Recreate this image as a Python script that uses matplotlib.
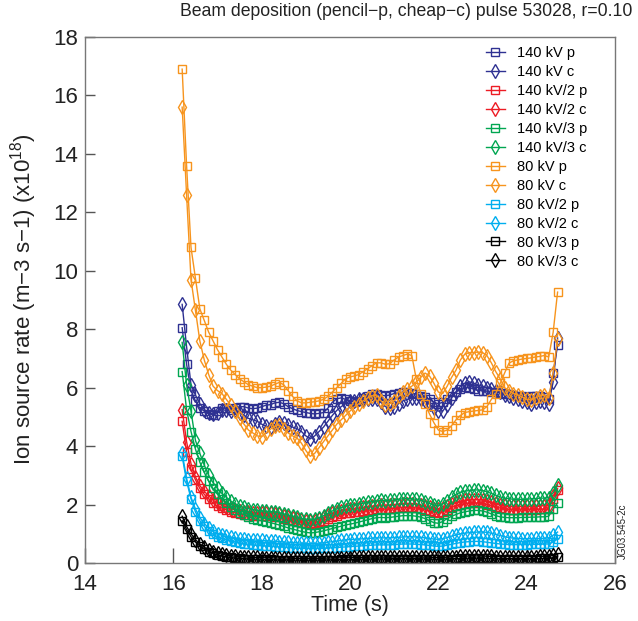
import numpy as np
import matplotlib
matplotlib.use("Agg")
import matplotlib.pyplot as plt

plt.rcParams['font.family'] = ['Liberation Sans', 'DejaVu Sans']
plt.rcParams['mathtext.default'] = 'regular'

# =========================
# Data (x10^18 m-3 s-1), sampled every 0.1 s from 16.2 to 24.7 s
# =========================
time = np.round(np.linspace(16.2, 24.7, 86), 1)

kv140_p = [8.05, 6.8, 5.9, 5.55, 5.3, 5.2, 5.1, 5.08,
           5.2, 5.3, 5.3, 5.25, 5.3, 5.35, 5.35, 5.3, 5.28, 5.3,
           5.35, 5.4, 5.42, 5.48, 5.5, 5.45, 5.35, 5.28, 5.22, 5.18,
           5.15, 5.12, 5.1, 5.12, 5.15, 5.3, 5.5, 5.62, 5.65, 5.6,
           5.55, 5.5, 5.55, 5.65, 5.72, 5.78, 5.8, 5.75, 5.72, 5.75,
           5.8, 5.82, 5.85, 5.85, 5.82, 5.78, 5.72, 5.68, 5.6, 5.5,
           5.45, 5.5, 5.6, 5.72, 5.85, 5.95, 6.02, 6.0, 5.95, 5.9,
           5.9, 5.88, 5.85, 5.85, 5.82, 5.8, 5.78, 5.75, 5.72, 5.7,
           5.68, 5.7, 5.72, 5.7, 5.68, 5.6, 6.5, 7.45]
kv140_c = [8.85, 7.4, 6.1, 5.75, 5.45, 5.25, 5.15, 5.1,
           5.15, 5.25, 5.22, 5.2, 5.22, 5.15, 5.05, 4.95, 4.9, 4.85,
           4.75, 4.68, 4.65, 4.75, 4.82, 4.8, 4.72, 4.65, 4.6, 4.5,
           4.35, 4.25, 4.35, 4.5, 4.65, 4.85, 5.05, 5.22, 5.35, 5.45,
           5.55, 5.55, 5.6, 5.6, 5.6, 5.62, 5.6, 5.5, 5.35, 5.3,
           5.35, 5.45, 5.55, 5.6, 5.65, 5.65, 5.62, 5.55, 5.45, 5.3,
           5.2, 5.2, 5.4, 5.65, 5.85, 6.05, 6.15, 6.2, 6.15, 6.1,
           6.05, 6.0, 5.95, 5.9, 5.85, 5.75, 5.7, 5.65, 5.6, 5.55,
           5.5, 5.45, 5.5, 5.55, 5.5, 5.45, 6.2, 7.7]
kv140h_p = [4.85, 3.8, 3.2, 2.85, 2.55, 2.35, 2.2, 2.05,
            1.95, 1.88, 1.82, 1.76, 1.72, 1.68, 1.65, 1.63, 1.62, 1.6,
            1.6, 1.6, 1.6, 1.58, 1.56, 1.52, 1.48, 1.44, 1.4, 1.38,
            1.36, 1.35, 1.36, 1.4, 1.45, 1.52, 1.58, 1.62, 1.66, 1.7,
            1.72, 1.74, 1.76, 1.78, 1.8, 1.82, 1.84, 1.85, 1.84, 1.85,
            1.87, 1.88, 1.9, 1.9, 1.9, 1.88, 1.86, 1.82, 1.78, 1.74,
            1.72, 1.75, 1.82, 1.9, 1.96, 2.0, 2.02, 2.04, 2.05, 2.05,
            2.04, 2.0, 1.96, 1.92, 1.88, 1.85, 1.83, 1.82, 1.82, 1.82,
            1.82, 1.83, 1.83, 1.84, 1.84, 1.85, 2.2, 2.5]
kv140h_c = [5.25, 4.15, 3.4, 2.95, 2.65, 2.45, 2.3, 2.15,
            2.05, 1.98, 1.92, 1.86, 1.82, 1.78, 1.75, 1.73, 1.72, 1.7,
            1.7, 1.7, 1.7, 1.68, 1.66, 1.62, 1.58, 1.54, 1.5, 1.47,
            1.45, 1.44, 1.45, 1.5, 1.56, 1.63, 1.7, 1.74, 1.78, 1.82,
            1.84, 1.86, 1.88, 1.9, 1.92, 1.94, 1.96, 1.97, 1.96, 1.97,
            1.99, 2.0, 2.02, 2.02, 2.02, 2.0, 1.98, 1.94, 1.9, 1.86,
            1.84, 1.87, 1.94, 2.02, 2.08, 2.12, 2.14, 2.16, 2.17, 2.17,
            2.16, 2.12, 2.08, 2.04, 2.0, 1.97, 1.95, 1.94, 1.94, 1.94,
            1.94, 1.95, 1.95, 1.96, 1.96, 1.97, 2.3, 2.55]
kv140t_p = [6.55, 5.25, 4.5, 3.9, 3.45, 3.1, 2.8, 2.55,
            2.35, 2.2, 2.05, 1.92, 1.82, 1.72, 1.65, 1.58, 1.52, 1.48,
            1.45, 1.42, 1.38, 1.34, 1.3, 1.25, 1.2, 1.16, 1.12, 1.08,
            1.05, 1.03, 1.04, 1.07, 1.1, 1.14, 1.18, 1.22, 1.26, 1.3,
            1.33, 1.36, 1.4, 1.44, 1.48, 1.52, 1.55, 1.56, 1.55, 1.56,
            1.58, 1.6, 1.62, 1.62, 1.62, 1.6, 1.57, 1.52, 1.45, 1.38,
            1.36, 1.42, 1.52, 1.6, 1.66, 1.72, 1.75, 1.78, 1.8, 1.8,
            1.78, 1.74, 1.68, 1.62, 1.58, 1.56, 1.55, 1.55, 1.55, 1.56,
            1.56, 1.57, 1.57, 1.58, 1.58, 1.6, 1.85, 2.05]
kv140t_c = [7.55, 6.1, 5.2, 4.2, 3.75, 3.35, 3.0, 2.75,
            2.55, 2.38, 2.25, 2.12, 2.02, 1.95, 1.9, 1.86, 1.83, 1.8,
            1.78, 1.77, 1.76, 1.74, 1.72, 1.68, 1.64, 1.6, 1.56, 1.52,
            1.5, 1.48, 1.5, 1.55, 1.62, 1.7, 1.78, 1.85, 1.9, 1.94,
            1.98, 2.0, 2.02, 2.05, 2.08, 2.1, 2.12, 2.14, 2.13, 2.14,
            2.16, 2.18, 2.2, 2.2, 2.2, 2.18, 2.15, 2.1, 2.04, 1.98,
            1.96, 2.02, 2.12, 2.25, 2.35, 2.42, 2.46, 2.48, 2.5, 2.5,
            2.48, 2.44, 2.38, 2.32, 2.26, 2.22, 2.2, 2.18, 2.18, 2.18,
            2.18, 2.2, 2.2, 2.22, 2.22, 2.24, 2.4, 2.67]
kv80_p = [16.9, 13.6, 10.8, 9.75, 8.7, 8.3, 7.9, 7.6,
          7.3, 7.05, 6.8, 6.6, 6.45, 6.3, 6.2, 6.1, 6.05, 6.0,
          6.0, 6.02, 6.05, 6.12, 6.18, 6.1, 5.9, 5.7, 5.55, 5.48,
          5.48, 5.5, 5.52, 5.55, 5.6, 5.7, 5.85, 6.0, 6.15, 6.3,
          6.37, 6.4, 6.45, 6.55, 6.65, 6.75, 6.85, 6.85, 6.8, 6.82,
          6.95, 7.05, 7.1, 7.15, 7.1, 6.3, 5.8, 5.45, 5.1, 4.8,
          4.55, 4.5, 4.55, 4.7, 4.9, 5.05, 5.15, 5.18, 5.2, 5.22,
          5.24, 5.35, 5.6, 5.8, 6.15, 6.5, 6.84, 6.92, 6.95, 6.98,
          7.0, 7.02, 7.05, 7.07, 7.1, 7.05, 7.9, 9.27]
kv80_c = [15.6, 12.6, 9.7, 8.65, 7.6, 6.95, 6.45, 6.05,
          5.9, 5.8, 5.6, 5.4, 5.2, 4.95, 4.75, 4.55, 4.45, 4.35,
          4.32, 4.45, 4.58, 4.68, 4.72, 4.6, 4.45, 4.35, 4.28, 4.1,
          3.85, 3.65, 3.75, 3.95, 4.15, 4.35, 4.55, 4.75, 4.9, 5.05,
          5.2, 5.35, 5.45, 5.55, 5.65, 5.72, 5.75, 5.55, 5.4, 5.45,
          5.55, 5.7, 5.85, 5.95, 6.05, 6.2, 6.35, 6.5, 6.4, 6.15,
          5.85, 5.8, 6.05, 6.35, 6.6, 6.95, 7.15, 7.2, 7.2, 7.22,
          7.2, 7.1, 6.85, 6.55, 6.3, 6.0, 5.9, 5.8, 5.75, 5.68,
          5.6, 5.58, 5.65, 5.72, 5.75, 5.65, 6.5, 7.65]
kv80h_p = [3.65, 2.8, 2.2, 1.75, 1.45, 1.25, 1.1, 0.98,
           0.9, 0.84, 0.8, 0.76, 0.72, 0.69, 0.66, 0.64, 0.62, 0.6,
           0.59, 0.58, 0.57, 0.56, 0.55, 0.54, 0.53, 0.52, 0.51, 0.5,
           0.5, 0.49, 0.49, 0.5, 0.5, 0.51, 0.52, 0.53, 0.54, 0.55,
           0.56, 0.57, 0.58, 0.59, 0.6, 0.61, 0.62, 0.62, 0.62, 0.62,
           0.63, 0.64, 0.65, 0.65, 0.65, 0.64, 0.63, 0.62, 0.6, 0.58,
           0.57, 0.58, 0.61, 0.64, 0.67, 0.7, 0.72, 0.73, 0.74, 0.74,
           0.73, 0.71, 0.69, 0.67, 0.65, 0.64, 0.63, 0.63, 0.63, 0.63,
           0.63, 0.64, 0.64, 0.64, 0.65, 0.65, 0.72, 0.82]
kv80h_c = [3.75, 2.9, 2.25, 1.85, 1.55, 1.35, 1.2, 1.08,
           1.0, 0.95, 0.91, 0.88, 0.85, 0.83, 0.81, 0.8, 0.79, 0.78,
           0.77, 0.76, 0.75, 0.74, 0.73, 0.72, 0.71, 0.7, 0.69, 0.68,
           0.67, 0.67, 0.67, 0.68, 0.69, 0.71, 0.73, 0.75, 0.77, 0.79,
           0.8, 0.81, 0.82, 0.83, 0.84, 0.85, 0.86, 0.86, 0.86, 0.86,
           0.87, 0.88, 0.89, 0.9, 0.9, 0.89, 0.88, 0.86, 0.84, 0.82,
           0.81, 0.83, 0.87, 0.92, 0.96, 1.0, 1.02, 1.04, 1.05, 1.06,
           1.06, 1.05, 1.02, 0.98, 0.94, 0.9, 0.87, 0.85, 0.84, 0.83,
           0.83, 0.83, 0.84, 0.84, 0.85, 0.86, 0.95, 1.06]
kv80t_p = [1.45, 1.15, 0.9, 0.72, 0.58, 0.47, 0.39, 0.33,
           0.28, 0.24, 0.21, 0.19, 0.17, 0.16, 0.15, 0.14, 0.13, 0.13,
           0.12, 0.12, 0.12, 0.11, 0.11, 0.11, 0.11, 0.1, 0.1, 0.1,
           0.1, 0.1, 0.1, 0.1, 0.1, 0.11, 0.11, 0.11, 0.12, 0.12,
           0.12, 0.13, 0.13, 0.13, 0.14, 0.14, 0.14, 0.14, 0.14, 0.14,
           0.15, 0.15, 0.15, 0.15, 0.15, 0.15, 0.14, 0.14, 0.14, 0.13,
           0.13, 0.13, 0.14, 0.15, 0.15, 0.16, 0.16, 0.17, 0.17, 0.17,
           0.17, 0.16, 0.16, 0.15, 0.15, 0.15, 0.15, 0.15, 0.15, 0.15,
           0.15, 0.15, 0.15, 0.16, 0.16, 0.16, 0.18, 0.22]
kv80t_c = [1.6, 1.25, 1.0, 0.8, 0.65, 0.54, 0.45, 0.39,
           0.34, 0.3, 0.27, 0.25, 0.23, 0.22, 0.21, 0.2, 0.19, 0.19,
           0.18, 0.18, 0.18, 0.17, 0.17, 0.17, 0.17, 0.16, 0.16, 0.16,
           0.16, 0.16, 0.16, 0.16, 0.16, 0.17, 0.17, 0.17, 0.18, 0.18,
           0.18, 0.19, 0.19, 0.19, 0.2, 0.2, 0.2, 0.2, 0.2, 0.2,
           0.21, 0.21, 0.21, 0.21, 0.21, 0.21, 0.2, 0.2, 0.2, 0.19,
           0.19, 0.19, 0.2, 0.21, 0.22, 0.23, 0.23, 0.24, 0.24, 0.24,
           0.24, 0.23, 0.23, 0.22, 0.22, 0.22, 0.22, 0.22, 0.22, 0.22,
           0.22, 0.22, 0.22, 0.23, 0.23, 0.23, 0.26, 0.3]

labels = ["140 kV p", "140 kV c", "140 kV/2 p", "140 kV/2 c",
          "140 kV/3 p", "140 kV/3 c", "80 kV p", "80 kV c",
          "80 kV/2 p", "80 kV/2 c", "80 kV/3 p", "80 kV/3 c"]
series = [kv140_p, kv140_c, kv140h_p, kv140h_c, kv140t_p, kv140t_c,
          kv80_p, kv80_c, kv80h_p, kv80h_c, kv80t_p, kv80t_c]
colors = ["#2e3192", "#2e3192", "#ed1c24", "#ed1c24", "#00a651", "#00a651",
          "#f7941d", "#f7941d", "#00aeef", "#00aeef", "#000000", "#000000"]

# =========================
# Plot
# =========================
fig = plt.figure(figsize=(6.38, 6.21), dpi=100)
ax = fig.add_axes([85 / 638, 1 - 563 / 621, 530 / 638, 526 / 621])

for lab, ys, col in zip(labels, series, colors):
    if lab.endswith("p"):
        ax.plot(time, ys, color=col, lw=1.0, marker="s", ms=6,
                mfc="none", mec=col, mew=1.0, label=lab)
    else:
        ax.plot(time, ys, color=col, lw=1.0, marker="d", ms=7.5,
                mfc="none", mec=col, mew=1.0, label=lab)

ax.set_xlim(14, 26)
ax.set_ylim(0, 18)
ax.set_xticks(range(14, 27, 2))
ax.set_yticks(range(0, 19, 2))
ax.tick_params(direction="in", width=1, color="#555555",
               labelsize=16, labelcolor="#222222")
ax.tick_params(axis="x", length=11, pad=8)
ax.tick_params(axis="y", length=7, pad=5)
for sp in ax.spines.values():
    sp.set_color("#777777")
    sp.set_linewidth(1.0)

ax.legend(loc="upper left", bbox_to_anchor=(486 / 638, 1 - 46 / 621),
          bbox_transform=fig.transFigure, frameon=False, fontsize=10.5,
          handlelength=1.3, handletextpad=0.8, labelspacing=0.34,
          borderpad=0, borderaxespad=0)

fig.text(0.636, 0.981, "Beam deposition (pencil\u2212p, cheap\u2212c) pulse 53028, r=0.10",
         ha="center", va="center", fontsize=12.7, color="#222222")
fig.text(350 / 638, 15 / 621, "Time (s)", ha="center", va="center",
         fontsize=15.5, color="#222222")
fig.text(24 / 638, 0.518, "Ion source rate (m\u22123 s\u22121) (x10$^{18}$)",
         rotation=90, ha="center", va="center", fontsize=16, color="#222222")
fig.text(623 / 638, 0.145, "JG03.545-2c", rotation=90, ha="center",
         va="center", fontsize=7, color="#222222")

fig.savefig("out.png", dpi=100)
